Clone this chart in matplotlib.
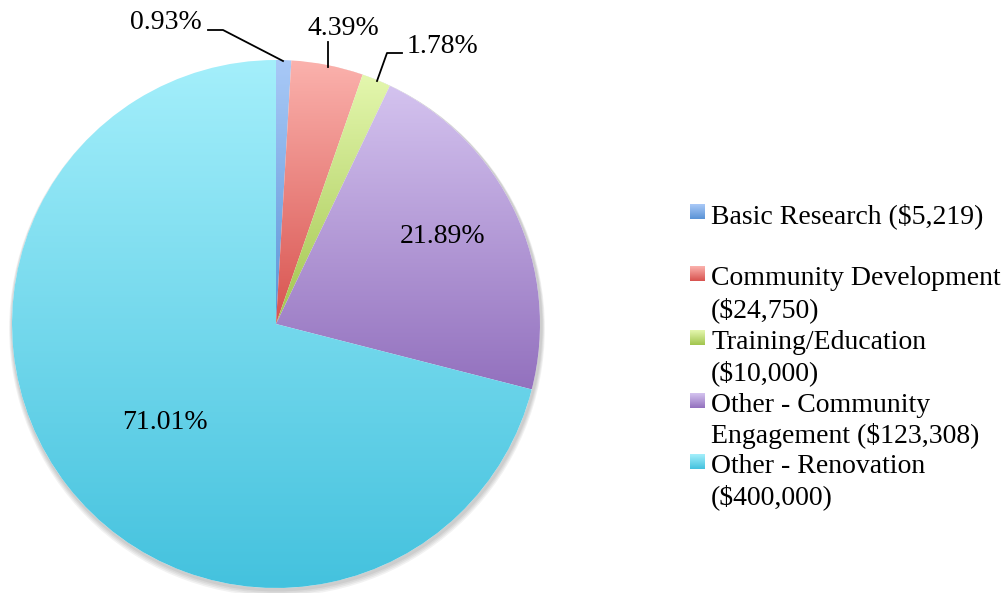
import numpy as np
import matplotlib
matplotlib.use("Agg")
import matplotlib.pyplot as plt
from matplotlib.colors import to_rgb
from matplotlib.patches import Circle

# ---- data ----
categories = ["Basic Research", "Community Development", "Training/Education",
              "Other - Community Engagement", "Other - Renovation"]
amounts = [5219, 24750, 10000, 123308, 400000]
pct_labels = ["0.93%", "4.39%", "1.78%", "21.89%", "71.01%"]
legend_lines = [["Basic Research ($5,219)"],
                ["Community Development", "($24,750)"],
                ["Training/Education", "($10,000)"],
                ["Other - Community", "Engagement ($123,308)"],
                ["Other - Renovation", "($400,000)"]]
top_colors = ["#A9C9F7", "#FBB2AD", "#E4F7AE", "#D4C3EF", "#A4EFFB"]
bottom_colors = ["#5A93D6", "#D8534F", "#A2C54E", "#9371BE", "#44C2DE"]

W, H = 1008, 593
fig = plt.figure(figsize=(W / 100, H / 100), dpi=100)
ax = fig.add_axes([0, 0, 1, 1])
ax.set_aspect("equal")
ax.axis("off")

FONT = "Liberation Serif"
cx, cy, R = 276, H - 324, 264


def Y(y):
    return H - y


# soft shadow
for i in range(4):
    ax.add_patch(Circle((cx + 1, cy - 2 - i * 0.8), R + 1.5 + i * 0.8,
                        facecolor="black", edgecolor="none", alpha=0.05, zorder=1))
ax.add_patch(Circle((cx, cy), R, facecolor="white", edgecolor="none", zorder=1.5))

wedges, _ = ax.pie(amounts, startangle=90, counterclock=False, center=(cx, cy),
                   radius=R, frame=True)


def gradient_img(top, bottom, n=256):
    t = np.linspace(0, 1, n)[:, None]
    c0 = np.array(to_rgb(top))
    c1 = np.array(to_rgb(bottom))
    img = c0[None, None, :] * (1 - t[:, :, None]) + c1[None, None, :] * t[:, :, None]
    return np.repeat(img, 2, axis=1)


for w, tc, bc in zip(wedges, top_colors, bottom_colors):
    w.set_facecolor("none")
    w.set_edgecolor("none")
    w.set_zorder(3)
    ext = w.get_path().get_extents()
    im = ax.imshow(gradient_img(tc, bc), extent=[ext.x0, ext.x1, ext.y0, ext.y1],
                   origin="upper", aspect="auto", zorder=2, interpolation="bilinear")
    im.set_clip_path(w)

fs = 20
lw = 1.3
# percentage labels: (left x, baseline y) in pixel coords from top
pct_pos = [(130, 29), (307, 35), (407, 53), (400, 243), (122, 429)]
for lab, (x, y) in zip(pct_labels, pct_pos):
    ax.text(x, Y(y), lab, fontsize=fs, family=FONT, ha="left", va="baseline", zorder=5)

ax.plot([208, 223, 283], [Y(30), Y(30), Y(61)], color="black", lw=lw, zorder=5)
ax.plot([328, 328], [Y(42), Y(67)], color="black", lw=lw, zorder=5)
ax.plot([402, 387, 377], [Y(53), Y(53), Y(81)], color="black", lw=lw, zorder=5)

# legend (manual): baselines of each line
baselines = [[223], [285, 317], [349, 380], [412, 443], [473, 504]]
for lines, bls, tc, bc in zip(legend_lines, baselines, top_colors, bottom_colors):
    b0 = bls[0]
    ax.imshow(gradient_img(tc, bc, 32), extent=[690, 705, Y(b0 - 4), Y(b0 - 19)],
              origin="upper", aspect="auto", zorder=5, interpolation="bilinear")
    for line, b in zip(lines, bls):
        ax.text(711, Y(b), line, fontsize=fs, family=FONT, ha="left",
                va="baseline", zorder=5)

ax.set_xlim(0, W)
ax.set_ylim(0, H)
fig.savefig("out.png", dpi=100)
